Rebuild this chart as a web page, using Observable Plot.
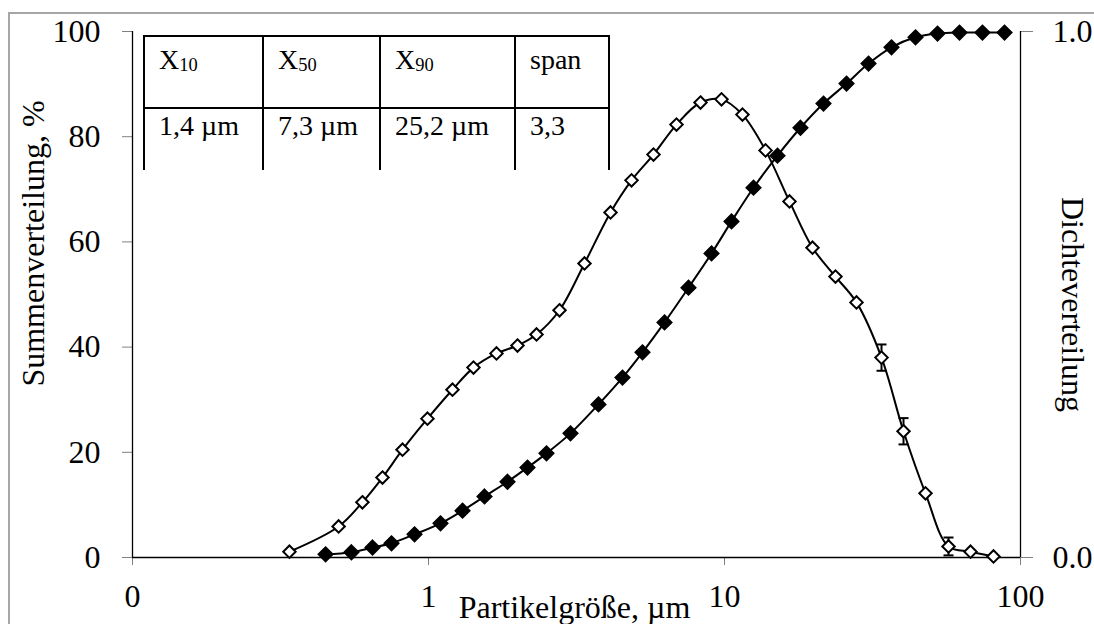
<!DOCTYPE html>
<html><head><meta charset="utf-8">
<script src="https://cdn.jsdelivr.net/npm/d3@7"></script>
<script src="https://cdn.jsdelivr.net/npm/@observablehq/plot@0.6"></script>
<style>
body{margin:0;background:#fff;}
#wrap{position:relative;width:1094px;height:624px;overflow:hidden;font-family:"Liberation Serif",serif;background:#fff;}
#frame{position:absolute;left:8px;top:12px;right:-10px;bottom:-10px;border-top:2px solid #a6a6a6;border-left:2px solid #a6a6a6;pointer-events:none}
#tbl{position:absolute;left:143px;top:35px;border-collapse:collapse;table-layout:fixed;font-size:28px;line-height:1;color:#000;}
#tbl td{border:2px solid #000;vertical-align:top;padding:0 0 0 14px;white-space:nowrap;overflow:hidden;}
#tbl tr.h td{height:61px;padding-top:9px;}
#tbl tr.v td{height:58px;padding-top:3px;border-bottom:none;}
#tbl sub{font-size:0.66em;vertical-align:-0.12em;}
</style></head>
<body>
<div id="wrap"><div id="chart"></div><div id="frame"></div></div>
<script>
// Cumulative distribution Q3 (filled diamonds), size in µm, value in %
const sizeQ3 = [0.449,0.549,0.647,0.750,0.897,1.098,1.303,1.546,1.849,2.160,2.504,3.018,3.752,4.522,5.284,6.271,7.557,9.040,10.56,12.53,15.10,18.06,21.60,25.84,30.66,36.66,44.19,52.44,62.22,74.39,88.31];
const valQ3  = [0.6,1.0,1.9,2.7,4.4,6.5,8.9,11.6,14.4,17.1,19.8,23.6,29.1,34.2,39.0,44.7,51.3,57.8,63.9,70.3,76.4,81.7,86.3,90.1,93.9,97.0,98.9,99.6,99.8,99.8,99.8];
// Density distribution q3 (open diamonds), right axis units
const sizeq3 = [0.339,0.497,0.598,0.699,0.817,0.992,1.205,1.419,1.697,1.998,2.317,2.771,3.365,4.120,4.852,5.756,6.884,8.297,9.770,11.50,13.76,16.58,19.83,23.71,27.92,33.92,40.25,47.76,57.12,67.78,81.06];
const valq3  = [0.011,0.059,0.105,0.152,0.205,0.264,0.319,0.361,0.388,0.403,0.424,0.470,0.559,0.656,0.717,0.766,0.823,0.865,0.871,0.842,0.774,0.677,0.589,0.534,0.485,0.380,0.240,0.122,0.021,0.011,0.002];
const errq3  = [0,0,0,0,0,0,0,0,0,0,0,0,0,0,0,0,0,0,0,0,0,0,0,0,0,0.025,0.025,0,0.017,0,0];
// Axis ticks
const xTicks = [0.1,1,10,100];
const yLeftTicks = [0,20,40,60,80,100];
const yRightTicks = [0.0,1.0];
// Table
const tableHead = [["X","10"],["X","50"],["X","90"],["span",""]];
const tableVals = ["1,4 µm","7,3 µm","25,2 µm","3,3"];
const colWidths = [119,117,135,94];

const cum = sizeQ3.map((s,i)=>({size:s, v:valQ3[i]}));
const dens = sizeq3.map((s,i)=>({size:s, v:valq3[i]*100, e:errq3[i]*100}));
const errs = dens.filter(d=>d.e>0);

const capSymbol = {draw(ctx){ ctx.moveTo(-5,0); ctx.lineTo(5,0); }};

const chart = Plot.plot({
  width:1094, height:624,
  marginLeft:132, marginRight:74, marginTop:31, marginBottom:67,
  style:{fontFamily:"Liberation Serif, serif", fontSize:"32px", background:"transparent", color:"#000"},
  x:{type:"log", domain:[xTicks[0], xTicks[xTicks.length-1]], axis:null},
  y:{domain:[yLeftTicks[0], yLeftTicks[yLeftTicks.length-1]], axis:null},
  marks:[
    Plot.axisY(yLeftTicks, {anchor:"left", tickSize:10, tickPadding:22, stroke:"#808080", label:null}),
    Plot.axisY(yRightTicks.map(v=>v*100), {anchor:"right", tickSize:12, tickPadding:20, stroke:"#808080", tickFormat:d=>(d/100).toFixed(1), label:null}),
    Plot.axisX(xTicks, {anchor:"bottom", tickSize:8, tickPadding:19, stroke:"#808080", tickFormat:d=>d<1?"0":String(d), label:null}),
    Plot.ruleX([xTicks[0], xTicks[xTicks.length-1]], {stroke:"#000", strokeWidth:1.3}),
    Plot.ruleY([yLeftTicks[0]], {stroke:"#000", strokeWidth:1.3}),
    Plot.line(dens, {x:"size", y:"v", curve:"catmull-rom", stroke:"#000", strokeWidth:2}),
    Plot.ruleX(errs, {x:"size", y1:d=>d.v-d.e, y2:d=>d.v+d.e, stroke:"#000", strokeWidth:2}),
    Plot.dot(errs, {x:"size", y:d=>d.v-d.e, symbol:capSymbol, stroke:"#000", strokeWidth:2, fill:"none"}),
    Plot.dot(errs, {x:"size", y:d=>d.v+d.e, symbol:capSymbol, stroke:"#000", strokeWidth:2, fill:"none"}),
    Plot.dot(dens, {x:"size", y:"v", symbol:"diamond2", r:5.6, fill:"#fff", stroke:"#000", strokeWidth:2}),
    Plot.line(cum, {x:"size", y:"v", curve:"catmull-rom", stroke:"#000", strokeWidth:2}),
    Plot.dot(cum, {x:"size", y:"v", symbol:"diamond2", r:6.6, fill:"#000", stroke:"#000", strokeWidth:1.5}),
    Plot.text(["Summenverteilung, %"], {text:d=>d, frameAnchor:"left", textAnchor:"middle", lineAnchor:"middle", rotate:-90, dx:-99, dy:-51, fontSize:32}),
    Plot.text(["Dichteverteilung"], {text:d=>d, frameAnchor:"right", textAnchor:"middle", lineAnchor:"middle", rotate:90, dx:52, dy:10, fontSize:32}),
    Plot.text(["Partikelgröße, µm"], {text:d=>d, frameAnchor:"bottom", textAnchor:"middle", lineAnchor:"middle", dx:-2, dy:50, fontSize:32})
  ]
});
document.getElementById("chart").appendChild(chart);

// Table overlay
const tbl = document.createElement("table");
tbl.id = "tbl";
const cg = document.createElement("colgroup");
colWidths.forEach(w=>{ const c=document.createElement("col"); c.style.width=w+"px"; cg.appendChild(c); });
tbl.appendChild(cg);
const trh = document.createElement("tr"); trh.className="h";
tableHead.forEach(([a,b])=>{ const td=document.createElement("td"); td.textContent=a; if(b){ const s=document.createElement("sub"); s.textContent=b; td.appendChild(s);} trh.appendChild(td); });
const trv = document.createElement("tr"); trv.className="v";
tableVals.forEach(v=>{ const td=document.createElement("td"); td.textContent=v; trv.appendChild(td); });
tbl.appendChild(trh); tbl.appendChild(trv);
tbl.style.width = (colWidths.reduce((a,b)=>a+b,0)+2)+"px";
document.getElementById("wrap").appendChild(tbl);
</script>
</body></html>
